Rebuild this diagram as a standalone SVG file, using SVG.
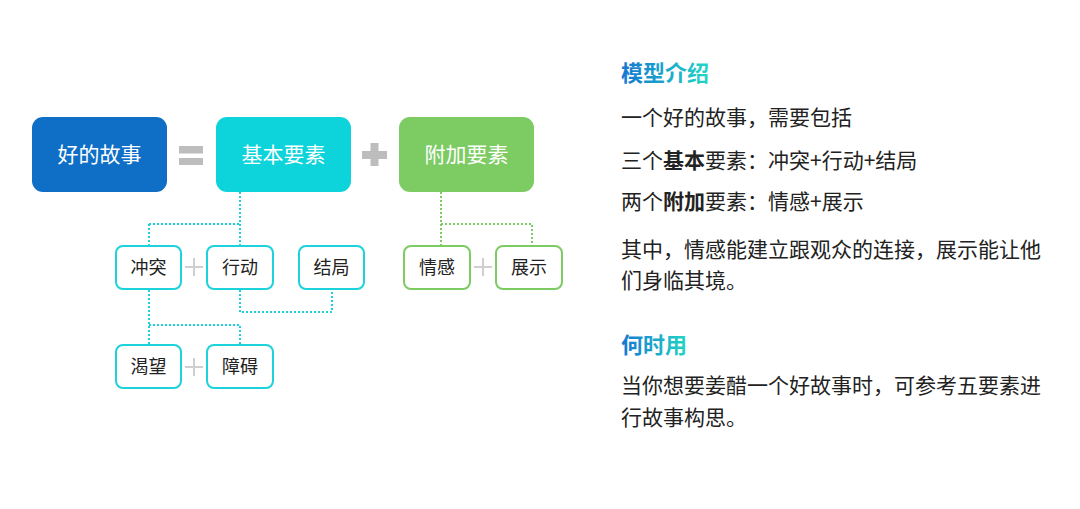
<svg xmlns="http://www.w3.org/2000/svg" width="1080" height="509" viewBox="0 0 1080 509">
<defs>
<linearGradient id="tg" x1="0" y1="0" x2="1" y2="0">
<stop offset="0" stop-color="#1476D2"/>
<stop offset="1" stop-color="#22D6C4"/>
</linearGradient>
<style>
text{font-family:"Noto Sans CJK SC","Noto Sans",sans-serif;}
.big{font-size:21px;fill:#fff;text-anchor:middle;}
.sm{font-size:18px;fill:#222;text-anchor:middle;}
.cb{fill:#fff;stroke:#1CD3DC;stroke-width:2;}
.gb{fill:#fff;stroke:#7DCB63;stroke-width:2;}
.cl{fill:none;stroke:#1CD3DC;stroke-width:2;stroke-dasharray:2 2;}
.gl{fill:none;stroke:#7DCB63;stroke-width:2;stroke-dasharray:2 2;}
.op{fill:#BDBDBD;}
.pl{stroke:#CFCFCF;stroke-width:2;}
.body{font-size:21px;fill:#222;}
.title{font-size:22px;font-weight:bold;fill:url(#tg);}
</style>
</defs>
<rect width="1080" height="509" fill="#fff"/>
<g id="connectors">
<path class="cl" d="M240 192 V224 M149 224 H240 M149 224 V246 M240 224 V246"/>
<path class="cl" d="M240 290 V312 H332 V290"/>
<path class="cl" d="M149 290 V345 M149 325 H240 V345"/>
<path class="gl" d="M441 192 V246 M441 224 H532 V246"/>
</g>
<g id="ops">
<rect class="op" x="179" y="146" width="24" height="7.5"/>
<rect class="op" x="179" y="158" width="24" height="7"/>
<rect class="op" x="362" y="151" width="25" height="8"/>
<rect class="op" x="370.5" y="143" width="8" height="23"/>
<path class="pl" d="M185 267 H203 M194 258 V276"/>
<path class="pl" d="M185 367 H203 M194 358 V376"/>
<path class="pl" d="M474 267 H492 M483 258 V276"/>
</g>
<g id="node-story">
<rect x="32" y="117" width="135" height="75" rx="11" fill="#0F6FC6"/>
<text class="big" x="99.5" y="162">好的故事</text>
</g>
<g id="node-basic">
<rect x="216" y="117" width="135" height="75" rx="11" fill="#0DD3DA"/>
<text class="big" x="283.5" y="162">基本要素</text>
</g>
<g id="node-extra">
<rect x="399" y="117" width="135" height="75" rx="11" fill="#7DCB63"/>
<text class="big" x="466.5" y="162">附加要素</text>
</g>
<g id="node-conflict">
<rect class="cb" x="116" y="246" width="65" height="43" rx="7"/>
<text class="sm" x="148.5" y="274">冲突</text>
</g>
<g id="node-action">
<rect class="cb" x="207" y="246" width="66" height="43" rx="7"/>
<text class="sm" x="240" y="274">行动</text>
</g>
<g id="node-ending">
<rect class="cb" x="299" y="246" width="65" height="43" rx="7"/>
<text class="sm" x="331.5" y="274">结局</text>
</g>
<g id="node-desire">
<rect class="cb" x="116" y="345" width="65" height="43" rx="7"/>
<text class="sm" x="148.5" y="373">渴望</text>
</g>
<g id="node-obstacle">
<rect class="cb" x="207" y="345" width="66" height="43" rx="7"/>
<text class="sm" x="240" y="373">障碍</text>
</g>
<g id="node-emotion">
<rect class="gb" x="404" y="246" width="66" height="43" rx="7"/>
<text class="sm" x="437" y="274">情感</text>
</g>
<g id="node-show">
<rect class="gb" x="496" y="246" width="66" height="43" rx="7"/>
<text class="sm" x="529" y="274">展示</text>
</g>
<g id="description">
<text class="title" x="621" y="81">模型介绍</text>
<text class="body" x="621" y="125">一个好的故事，需要包括</text>
<text class="body" x="621" y="168">三个<tspan font-weight="bold">基本</tspan>要素：冲突+行动+结局</text>
<text class="body" x="621" y="209">两个<tspan font-weight="bold">附加</tspan>要素：情感+展示</text>
<text class="body" x="621" y="257">其中，情感能建立跟观众的连接，展示能让他</text>
<text class="body" x="621" y="288">们身临其境。</text>
<text class="title" x="621" y="353">何时用</text>
<text class="body" x="621" y="393">当你想要姜醋一个好故事时，可参考五要素进</text>
<text class="body" x="621" y="425">行故事构思。</text>
</g>
</svg>
